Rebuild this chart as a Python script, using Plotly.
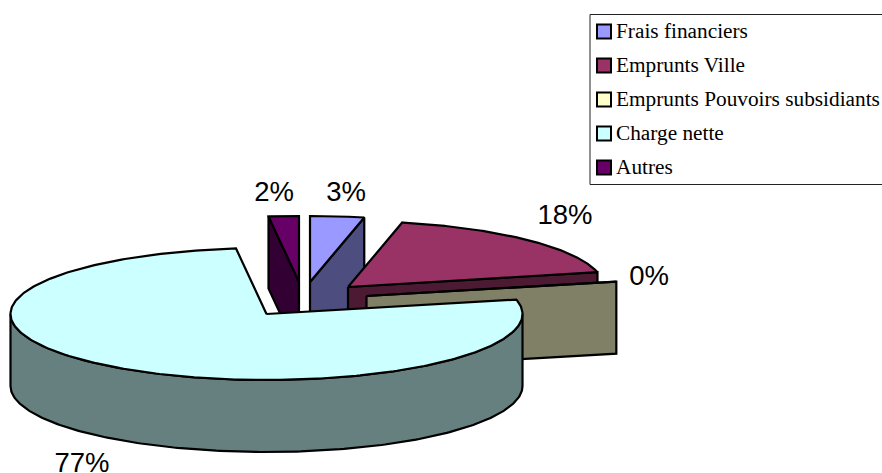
import numpy as np
import plotly.graph_objects as go

categories = ["Frais financiers", "Emprunts Ville", "Emprunts Pouvoirs subsidiants", "Charge nette", "Autres"]
values = [3.4, 18.0, 0.1, 76.6, 1.9]

top_colors = ["#9999FF", "#993366", "#FFFFCC", "#CCFFFF", "#660066"]
wall_colors = ["#4D4D80", "#4D1A33", "#808066", "#668080", "#330033"]
# pie geometry (pixels)
centers_x = [310, 348, 366.5, 266.5, 299]
centers_y = [282, 287, 296, 314, 282]
wall_kind = ["end", "end", "end", "arc", "start"]
label_x = [346, 565, 649, 82, 274]
label_y = [194, 217, 278, 465, 194]
RX, RY, DEPTH = 256, 66, 72
W, H = 882, 473
draw_order = [4, 0, 1, 2, 3]

total = sum(values)
edges = np.concatenate([[0], np.cumsum(values)]) / total * 2 * np.pi


def pt(cx, cy, theta, dz=0):
    return cx + RX * np.sin(theta), cy - RY * np.cos(theta) + dz


fig = go.Figure()


def poly(xs, ys, color, name):
    fig.add_trace(go.Scatter(
        x=list(xs), y=list(ys), mode="lines", fill="toself", fillcolor=color,
        line=dict(color="black", width=2.2), name=name, hoverinfo="name",
    ))


for i in draw_order:
    cx, cy = centers_x[i], centers_y[i]
    a0, a1 = edges[i], edges[i + 1]
    if wall_kind[i] == "arc":
        t = np.linspace(max(a0, 0.5 * np.pi), 1.5 * np.pi, 200)
        tx, ty = pt(cx, cy, t)
        bx, by = pt(cx, cy, t[::-1], DEPTH)
        poly(np.r_[tx, bx, tx[0]], np.r_[ty, by, ty[0]], wall_colors[i], categories[i])
    else:
        a = a1 if wall_kind[i] == "end" else a0
        ex, ey = pt(cx, cy, a)
        poly([cx, ex, ex, cx, cx], [cy, ey, ey + DEPTH, cy + DEPTH, cy], wall_colors[i], categories[i])
    t = np.linspace(a0, a1, 300)
    tx, ty = pt(cx, cy, t)
    poly(np.r_[cx, tx, cx], np.r_[cy, ty, cy], top_colors[i], categories[i])

# percentage labels
fig.add_trace(go.Scatter(
    x=label_x, y=label_y, mode="text", text=[f"{round(v)}%" for v in values],
    textposition="middle center",
    textfont=dict(family="Liberation Sans", size=27.5, color="black"), hoverinfo="skip",
))

# legend
legend_y = [31.5, 65.5, 99.5, 133.5, 167.5]
legend_text_y = [33, 67, 101, 135, 169]
fig.add_trace(go.Scatter(
    x=[604] * 5, y=legend_y, mode="markers",
    marker=dict(symbol="square", size=14, color=top_colors, line=dict(color="black", width=2)),
    hoverinfo="skip",
))
fig.add_trace(go.Scatter(
    x=[616] * 5, y=legend_text_y, mode="text", text=categories, textposition="middle right",
    textfont=dict(family="Liberation Serif", size=21.3, color="black"), hoverinfo="skip",
))

fig.update_layout(
    width=W, height=H, autosize=False, showlegend=False,
    margin=dict(l=0, r=0, t=0, b=0), paper_bgcolor="white", plot_bgcolor="white",
    xaxis=dict(range=[0, W], visible=False, fixedrange=True),
    yaxis=dict(range=[H, 0], visible=False, fixedrange=True),
    shapes=[dict(type="rect", xref="x", yref="y", x0=590, y0=14.5, x1=900, y1=184.5,
                 line=dict(color="#222222", width=1), fillcolor="rgba(0,0,0,0)", layer="below")],
)
fig.write_html("out.html", config=dict(displayModeBar=False),
               post_script="document.body.style.margin='0';document.body.style.overflow='hidden';")
